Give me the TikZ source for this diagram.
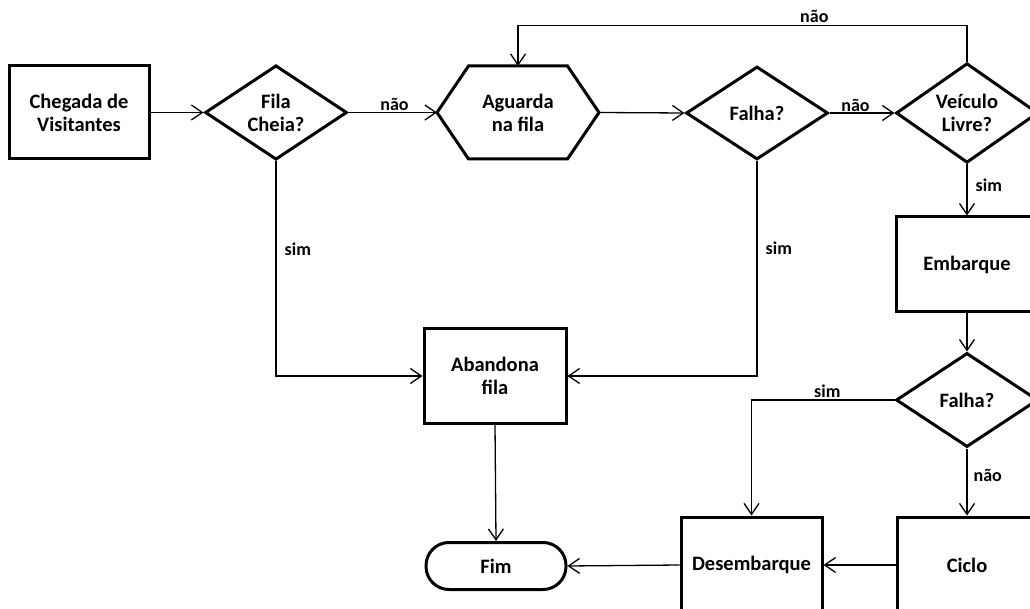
\documentclass[tikz,border=0pt]{standalone}
\usepackage{fontspec}
\setmainfont{Carlito}
\usetikzlibrary{arrows.meta,shapes.geometric}

\begin{document}
\begin{tikzpicture}[x=1pt,y=-1pt,
  every node/.style={font=\bfseries\fontsize{20.5}{23}\selectfont, align=center, inner sep=0pt},
  proc/.style={draw, line width=3pt, minimum width=140pt, minimum height=93pt},
  dec/.style={draw, diamond, line width=3pt, minimum width=142pt, minimum height=93pt},
  term/.style={draw, line width=3pt, rounded corners=23pt, minimum width=140pt, minimum height=47pt},
  flow/.style={line width=1.3pt, -{Straight Barb[length=11pt,width=15pt,line width=1.3pt]}},
  lbl/.style={font=\bfseries\fontsize{18}{20}\selectfont, inner sep=0pt}
]
\useasboundingbox (0,0) rectangle (1030,609);
\clip (0,0) rectangle (1030,609);

% process steps and decisions
\node[proc] (che) at (79,112.5) {Chegada de\\Visitantes};
\node[dec]  (fila) at (276,112.5) {Fila\\Cheia?};
\node[minimum width=162pt, minimum height=93pt, outer sep=0pt] (agu) at (518,112.5) {Aguarda\\na fila};
\draw[line width=3pt, line join=miter]
  (agu.west) -- ([xshift=31.5pt]agu.north west) -- ([xshift=-31.5pt]agu.north east)
  -- (agu.east) -- ([xshift=-31.5pt]agu.south east) -- ([xshift=31.5pt]agu.south west) -- cycle;
\node[dec]  (fal1) at (757,113) {Falha?};
\node[dec]  (vei) at (967,113) {Veículo\\Livre?};
\node[proc, minimum width=142pt, minimum height=95pt] (emb) at (967,264.5) {Embarque};
\node[dec, minimum height=94pt] (fal2) at (967,400) {Falha?};
\node[proc, minimum width=141pt, minimum height=96pt] (des) at (751.5,565) {Desembarque};
\node[proc, minimum height=96pt] (cic) at (967,565) {Ciclo};
\node[proc, minimum width=142pt, minimum height=94pt] (aba) at (495,376) {Abandona\\fila};
\node[term] (fim) at (496,566) {Fim};

% connectors
\draw[flow] (che.east) -- (fila.west);
\draw[flow] (fila.east) -- node[lbl, pos=0.52, above=1pt] {não} (agu.west);
\draw[flow] (agu.east) -- (fal1.west);
\draw[flow] (fal1.east) -- node[lbl, pos=0.4, above=1pt] {não} (vei.west);
\draw[flow] (vei.north) -- ++(0,-36) -| node[lbl, pos=0.17, above=2pt] {não} (agu.north);
\draw[flow] (vei.south) -- node[lbl, pos=0.4, right=8pt] {sim} (emb.north);
\draw[flow] (emb.south) -- (fal2.north);
\draw[flow] (fal2.west) -| node[lbl, pos=0.235, above=2pt] {sim} (des.north);
\draw[flow] (fal2.south) -- node[lbl, pos=0.4, right=6pt] {não} (cic.north);
\draw[flow] (cic.west) -- (des.east);
\draw[flow] (des.west) -- (fim.east);
\draw[flow] (aba.south) -- (fim.north);
\draw[flow] (fila.south) |- node[lbl, pos=0.205, right=8pt] {sim} (aba.west);
\draw[flow] (fal1.south) |- node[lbl, pos=0.204, right=8pt] {sim} (aba.east);
\end{tikzpicture}
\end{document}
